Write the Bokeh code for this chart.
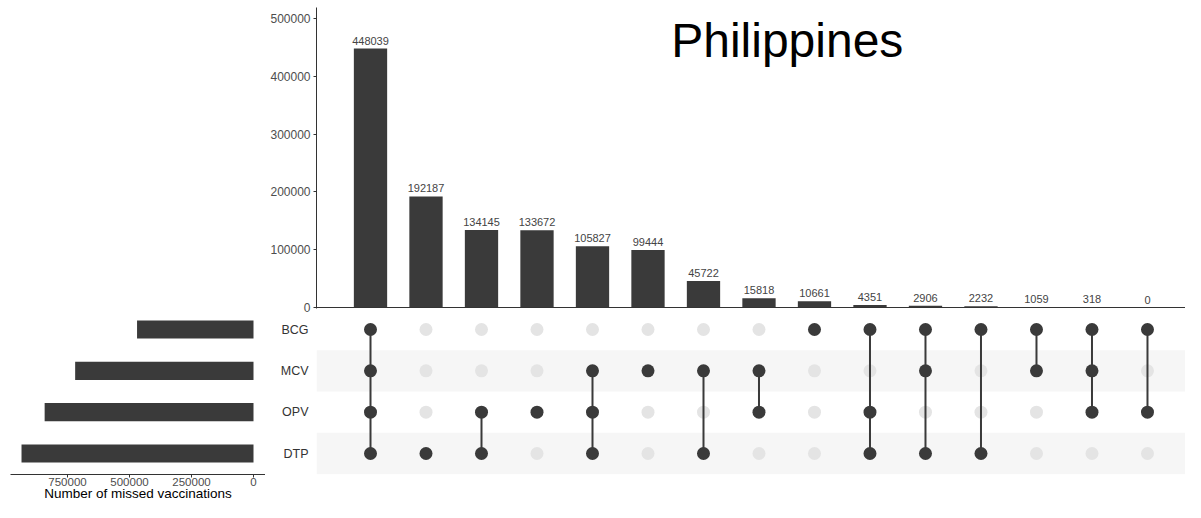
from bokeh.plotting import figure
from bokeh.layouts import column, row
from bokeh.models import Range1d, FixedTicker, BasicTickFormatter, Span, Label
from bokeh.embed import file_html
from bokeh.resources import INLINE
from bokeh.core.properties import value

# ---------------- data ----------------
title_text = "Philippines"
set_names = ["BCG", "MCV", "OPV", "DTP"]
set_sizes = [469566, 719133, 842170, 935409]
intersection_sizes = [448039, 192187, 134145, 133672, 105827, 99444, 45722,
                      15818, 10661, 4351, 2906, 2232, 1059, 318, 0]
intersection_members = [
    ["BCG", "MCV", "OPV", "DTP"],
    ["DTP"],
    ["OPV", "DTP"],
    ["OPV"],
    ["MCV", "OPV", "DTP"],
    ["MCV"],
    ["MCV", "DTP"],
    ["MCV", "OPV"],
    ["BCG"],
    ["BCG", "OPV", "DTP"],
    ["BCG", "MCV", "DTP"],
    ["BCG", "DTP"],
    ["BCG", "MCV"],
    ["BCG", "MCV", "OPV"],
    ["BCG", "OPV"],
]
count_ticks = [0, 100000, 200000, 300000, 400000, 500000]
size_ticks = [0, 250000, 500000, 750000]
x_axis_title = "Number of missed vaccinations"

# ---------------- style ----------------
FONT = "Liberation Sans"
DARK = "#3a3a3a"
LIGHT_DOT = "#e4e4e4"
BAND = "#f6f6f6"
AXIS = "#333333"
TICK_TEXT = "#4d4d4d"

cols = list(range(1, len(intersection_sizes) + 1))
row_order = list(reversed(set_names))          # bottom -> top
row_pos = {s: i for i, s in enumerate(row_order)}

xr = Range1d(0.027, 15.685)
yr = Range1d(-0.508, 3.339)

# ---------------- top: intersection sizes ----------------
top = figure(frame_width=869, frame_height=301,
             min_border_left=316, min_border_right=0, min_border_top=7, min_border_bottom=7,
             x_range=xr, y_range=Range1d(-1730, 519000),
             x_axis_location=None, output_backend="svg", toolbar_location=None, tools="")
top.grid.visible = False
top.outline_line_color = None

top.vbar(x=cols, top=intersection_sizes, bottom=0, width=0.6,
         fill_color=DARK, line_color=None)
top.text(x=cols, y=intersection_sizes, text=[str(v) for v in intersection_sizes],
         text_align="center", text_baseline="alphabetic", y_offset=-8,
         text_font=value(FONT), text_font_size="11px", text_color="#444444")
top.add_layout(Span(location=0, dimension="width", line_color=AXIS, line_width=1))

ya = top.yaxis[0]
ya.ticker = FixedTicker(ticks=count_ticks)
ya.formatter = BasicTickFormatter(use_scientific=False)
ya.major_tick_out = 3
ya.major_tick_in = 0
ya.minor_tick_line_color = None
ya.major_label_standoff = 3
ya.major_label_text_font = FONT
ya.major_label_text_font_size = "12px"
ya.major_label_text_color = TICK_TEXT
ya.axis_line_color = AXIS
ya.major_tick_line_color = AXIS

top.add_layout(Label(x=8.51, y=461900, text=title_text, text_font=FONT,
                     text_font_size="48px", text_align="center",
                     text_baseline="alphabetic", text_color="black"))

# ---------------- left: set sizes ----------------
left = figure(frame_width=255, frame_height=159,
              min_border_left=10, min_border_right=0, min_border_top=0, min_border_bottom=28,
              x_range=Range1d(979839, -48387), y_range=yr,
              y_axis_location=None, output_backend="svg", toolbar_location=None, tools="")
left.grid.visible = False
left.outline_line_color = None
left.hbar(y=[row_pos[s] for s in set_names], left=0, right=set_sizes, height=0.44,
          fill_color=DARK, line_color=None)
xa = left.xaxis[0]
xa.ticker = FixedTicker(ticks=size_ticks)
xa.formatter = BasicTickFormatter(use_scientific=False)
xa.major_tick_out = 3
xa.major_tick_in = 0
xa.minor_tick_line_color = None
xa.major_label_standoff = 0
xa.major_label_text_font = FONT
xa.major_label_text_font_size = "11.5px"
xa.major_label_text_color = TICK_TEXT
xa.axis_line_color = AXIS
xa.major_tick_line_color = AXIS
xa.axis_label = x_axis_title
xa.axis_label_standoff = -3
xa.axis_label_text_font = FONT
xa.axis_label_text_font_size = "13.5px"
xa.axis_label_text_font_style = "normal"
xa.axis_label_text_color = "black"

# ---------------- matrix ----------------
mat = figure(frame_width=869, frame_height=159,
             min_border_left=51, min_border_right=0, min_border_top=0, min_border_bottom=28,
             x_range=xr, y_range=yr,
             x_axis_location=None, output_backend="svg", toolbar_location=None, tools="")
mat.grid.visible = False
mat.outline_line_color = None

band_rows = [row_pos[s] for s in set_names[1::2]]
mat.hbar(y=band_rows, left=0, right=16, height=1, fill_color=BAND, line_color=None)

gx, gy, dx, dy = [], [], [], []
sx, sy0, sy1 = [], [], []
for c, members in zip(cols, intersection_members):
    for s in set_names:
        if s in members:
            dx.append(c); dy.append(row_pos[s])
        else:
            gx.append(c); gy.append(row_pos[s])
    if len(members) > 1:
        idx = sorted(row_pos[m] for m in members)
        sx.append(c); sy0.append(idx[0]); sy1.append(idx[-1])

mat.scatter(x=gx, y=gy, size=13, marker="circle", fill_color=LIGHT_DOT, line_color=None)
mat.segment(x0=sx, y0=sy0, x1=sx, y1=sy1, line_color=DARK, line_width=2)
mat.scatter(x=dx, y=dy, size=13, marker="circle", fill_color=DARK, line_color=None)

my = mat.yaxis[0]
my.ticker = FixedTicker(ticks=list(range(len(row_order))))
my.major_label_overrides = {i: s for i, s in enumerate(row_order)}
my.axis_line_color = None
my.major_tick_line_color = None
my.minor_tick_line_color = None
my.major_tick_out = 0
my.major_label_standoff = 8
my.major_label_text_font = FONT
my.major_label_text_font_size = "12.5px"
my.major_label_text_color = "#333333"

layout = column(top, row(left, mat))
open("out.html", "w").write(file_html(layout, INLINE))
